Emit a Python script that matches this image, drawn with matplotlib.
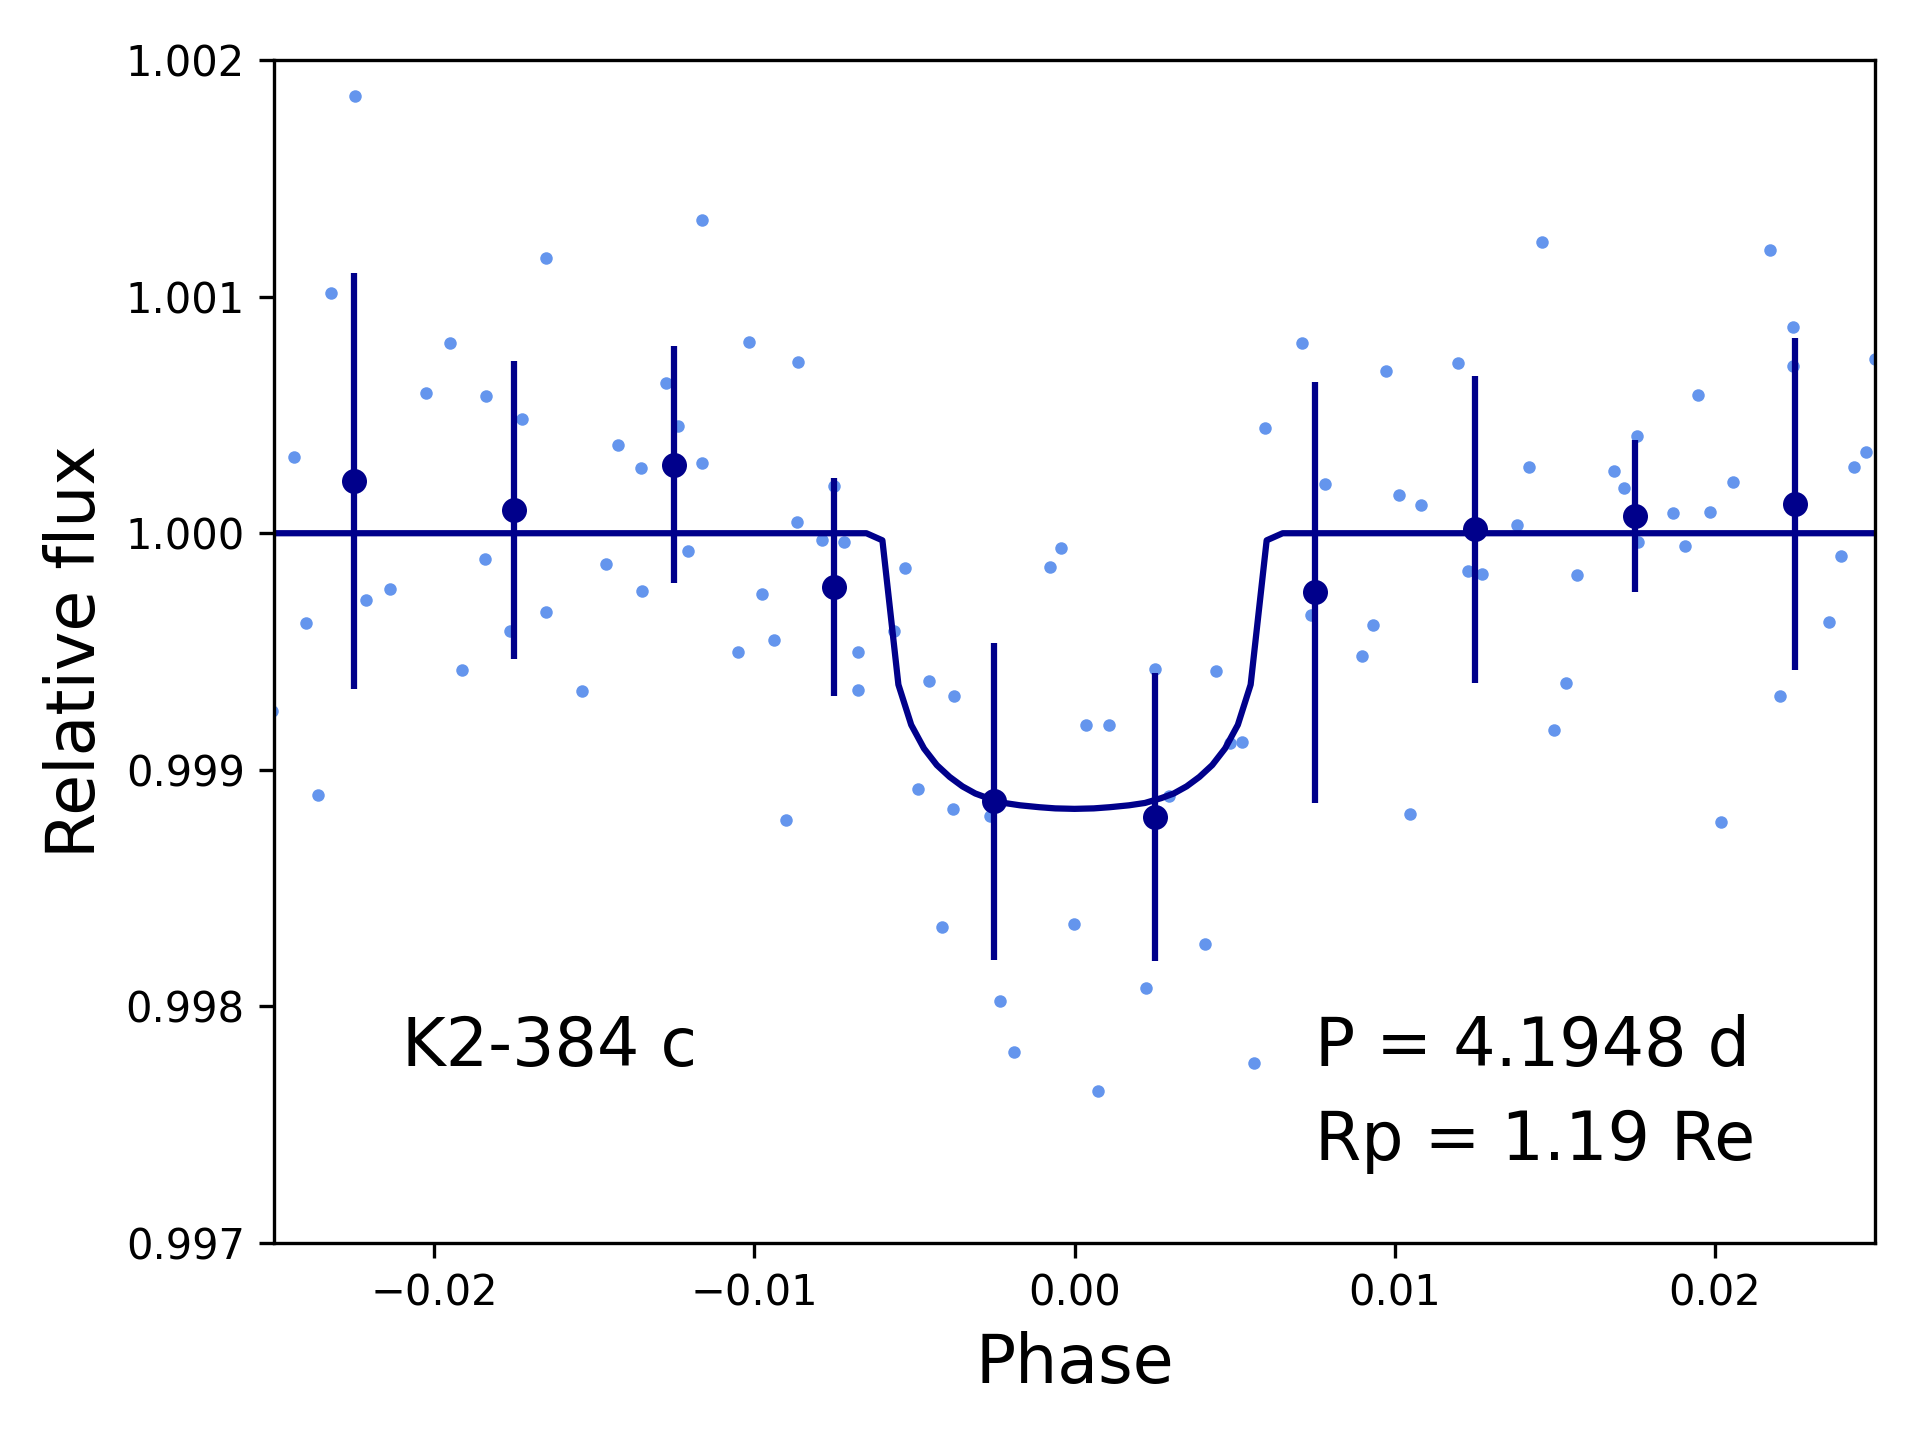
import numpy as np
import matplotlib
matplotlib.use("Agg")
import matplotlib.pyplot as plt
from matplotlib.ticker import FormatStrFormatter

# unbinned phase-folded photometry
phase_raw = [-0.02505, -0.02436, -0.02399, -0.02361, -0.02323, -0.02246, -0.02212, -0.02138,
             -0.02025, -0.01950, -0.01912, -0.01840, -0.01838, -0.01763, -0.01725, -0.01650,
             -0.01650, -0.01538, -0.01463, -0.01425, -0.01353, -0.01350, -0.01276, -0.01238,
             -0.01207, -0.01163, -0.01163, -0.01051, -0.01017, -0.00976, -0.00939, -0.00901,
             -0.00868, -0.00863, -0.00789, -0.00751, -0.00720, -0.00676, -0.00676, -0.00565,
             -0.00530, -0.00489, -0.00453, -0.00414, -0.00380, -0.00376, -0.00265, -0.00233,
             -0.00189, -0.00078, -0.00043, -0.00003, 0.00035, 0.00073, 0.00109, 0.00222,
             0.00252, 0.00296, 0.00409, 0.00443, 0.00485, 0.00522, 0.00560, 0.00596,
             0.00709, 0.00740, 0.00783, 0.00898, 0.00933, 0.00974, 0.01012, 0.01049,
             0.01083, 0.01198, 0.01229, 0.01273, 0.01382, 0.01420, 0.01461, 0.01498,
             0.01535, 0.01570, 0.01684, 0.01715, 0.01756, 0.01761, 0.01869, 0.01907,
             0.01947, 0.01984, 0.02019, 0.02056, 0.02172, 0.02203, 0.02244, 0.02244,
             0.02356, 0.02393, 0.02433, 0.02472, 0.02500]
flux_raw = [0.999250, 1.000321, 0.999622, 0.998892, 1.001017, 1.001846, 0.999716, 0.999763,
            1.000591, 1.000803, 0.999421, 0.999889, 1.000578, 0.999585, 1.000481, 1.001165,
            0.999666, 0.999332, 0.999868, 1.000371, 1.000274, 0.999755, 1.000637, 1.000455,
            0.999923, 1.001326, 1.000295, 0.999498, 1.000808, 0.999745, 0.999548, 0.998790,
            1.000046, 1.000722, 0.999970, 1.000198, 0.999965, 0.999499, 0.999337, 0.999585,
            0.999852, 0.998918, 0.999374, 0.998334, 0.998834, 0.999311, 0.998804, 0.998025,
            0.997806, 0.999857, 0.999936, 0.998347, 0.999188, 0.997641, 0.999188, 0.998077,
            0.999426, 0.998889, 0.998263, 0.999416, 0.999112, 0.999117, 0.997760, 1.000444,
            1.000803, 0.999653, 1.000206, 0.999480, 0.999611, 1.000685, 1.000161, 0.998813,
            1.000119, 1.000719, 0.999839, 0.999826, 1.000035, 1.000279, 1.001230, 0.999168,
            0.999366, 0.999823, 1.000263, 1.000190, 1.000410, 0.999965, 1.000085, 0.999946,
            1.000586, 1.000088, 0.998779, 1.000216, 1.001199, 0.999314, 1.000871, 1.000706,
            0.999624, 0.999902, 1.000279, 1.000345, 1.000735]

# binned points
phase_bin = [-0.0225, -0.0175, -0.0125, -0.0075, -0.0025, 0.0025, 0.0075, 0.0125, 0.0175, 0.0225]
flux_bin = [1.000222, 1.000100, 1.000290, 0.999773, 0.998868, 0.998800, 0.999750, 1.000016,
            1.000072, 1.000124]
err_bin = [0.00088, 0.00063, 0.00050, 0.00046, 0.00067, 0.00061, 0.00089, 0.00065, 0.00032, 0.00070]

# transit model
phase_model = [-0.025, -0.0065, -0.0060, -0.0055, -0.0051, -0.0047, -0.0043, -0.0039,
               -0.0035, -0.0031, -0.0027, -0.0022, -0.0017, -0.0011, -0.0006, 0.0,
               0.0006, 0.0011, 0.0017, 0.0022, 0.0027, 0.0031, 0.0035, 0.0039, 0.0043,
               0.0047, 0.0051, 0.0055, 0.0060, 0.0065, 0.025]
flux_model = [1.0, 1.0, 0.99997, 0.99936, 0.99919, 0.99909, 0.99902, 0.99897,
              0.99893, 0.99890, 0.99888, 0.99886, 0.998850, 0.998842, 0.998837, 0.998835,
              0.998837, 0.998842, 0.998850, 0.99886, 0.99888, 0.99890, 0.99893, 0.99897, 0.99902,
              0.99909, 0.99919, 0.99936, 0.99997, 1.0, 1.0]

fig, ax = plt.subplots(figsize=(6.4, 4.8), dpi=300)
fig.subplots_adjust(left=0.1427, right=0.9766, top=0.9583, bottom=0.1368)

ax.plot(phase_raw, flux_raw, 'o', color='cornflowerblue', ms=3, mew=0)
ax.errorbar(phase_bin, flux_bin, yerr=err_bin, fmt='o', color='darkblue', ms=6, mew=0, lw=1.5)
ax.plot(phase_model, flux_model, '-', color='darkblue', lw=1.5)

ax.set_xlim(-0.025, 0.025)
ax.set_ylim(0.997, 1.002)
ax.set_xticks([-0.02, -0.01, 0.0, 0.01, 0.02])
ax.set_yticks([0.997, 0.998, 0.999, 1.000, 1.001, 1.002])
ax.yaxis.set_major_formatter(FormatStrFormatter('%.3f'))

ax.set_xlabel('Phase', fontsize=16)
ax.set_ylabel('Relative flux', fontsize=16)

ax.text(0.080, 0.15, 'K2-384 c', transform=ax.transAxes, fontsize=16, va='baseline')
ax.text(0.650, 0.15, 'P = 4.1948 d', transform=ax.transAxes, fontsize=16, va='baseline')
ax.text(0.650, 0.07, 'Rp = 1.19 Re', transform=ax.transAxes, fontsize=16, va='baseline')

fig.savefig('out.png', dpi=300)
